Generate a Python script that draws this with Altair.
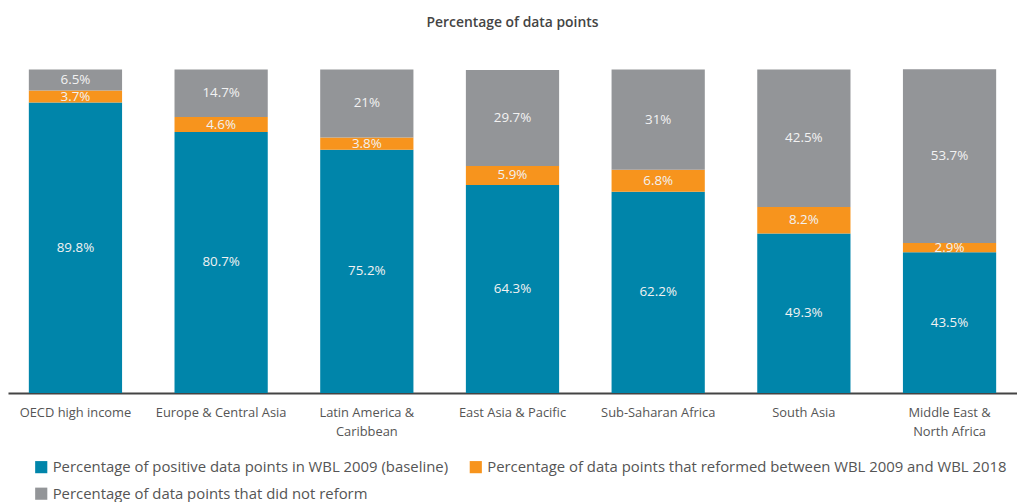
import altair as alt
import pandas as pd

regions = ["OECD high income", "Europe & Central Asia", "Latin America & Caribbean",
           "East Asia & Pacific", "Sub-Saharan Africa", "South Asia", "Middle East & North Africa"]
baseline = [89.8, 80.7, 75.2, 64.3, 62.2, 49.3, 43.5]
reformed = [3.7, 4.6, 3.8, 5.9, 6.8, 8.2, 2.9]
not_reformed = [6.5, 14.7, 21, 29.7, 31, 42.5, 53.7]

series = ["Percentage of positive data points in WBL 2009 (baseline)",
          "Percentage of data points that reformed between WBL 2009 and WBL 2018",
          "Percentage of data points that did not reform"]
colors = ["#0085AA", "#F7941D", "#939598"]
# legend fills column by column: order entries so rows read baseline | reformed, then not reform
legend_order = [series[0], series[2], series[1]]
legend_colors = [colors[0], colors[2], colors[1]]

rows = []
for i, r in enumerate(regions):
    for k, vals in enumerate([baseline, reformed, not_reformed]):
        v = vals[i]
        rows.append({"region": r, "series": series[k], "order": k, "value": v,
                     "label": f"{v:g}%"})
df = pd.DataFrame(rows)

base = alt.Chart(df).transform_stack(
    stack="value", groupby=["region"], as_=["v0", "v1"],
    sort=[alt.SortField("order", order="ascending")]
).transform_calculate(mid="(datum.v0 + datum.v1) / 2")

label_expr = ("datum.value == 'Latin America & Caribbean' ? ['Latin America &', 'Caribbean'] : "
              "datum.value == 'Middle East & North Africa' ? ['Middle East &', 'North Africa'] : datum.value")

x = alt.X("region:N", sort=regions, title=None,
          scale=alt.Scale(paddingInner=0.36, paddingOuter=0.143),
          axis=alt.Axis(labelAngle=0, ticks=False, domainColor="#444444", domainWidth=2,
                        labelColor="#555555", labelFontSize=13, labelFont="Open Sans",
                        labelPadding=14, labelLineHeight=19, labelExpr=label_expr,
                        labelBaseline="top"))

bars = base.mark_bar().encode(
    x=x,
    y=alt.Y("v0:Q", scale=alt.Scale(domain=[0, 100]), axis=None, title=None),
    y2="v1:Q",
    color=alt.Color("series:N",
                    scale=alt.Scale(domain=legend_order, range=legend_colors),
                    legend=alt.Legend(orient="none", legendX=26, legendY=393, columns=2,
                                      title=None, symbolType="square", symbolSize=150,
                                      symbolStrokeWidth=0, symbolOpacity=1,
                                      labelFontSize=15, labelFont="Open Sans",
                                      labelColor="#555555", columnPadding=20,
                                      rowPadding=11, labelLimit=600)),
)

texts = base.mark_text(color="#F2F2F2", fontSize=13.5, font="Open Sans").encode(
    x=alt.X("region:N", sort=regions),
    y=alt.Y("mid:Q"),
    text="label:N",
)

chart = alt.layer(bars, texts).properties(
    width=1017, height=326,
    title=alt.TitleParams("Percentage of data points", fontSize=14, font="Open Sans",
                          fontWeight=600, color="#444444", anchor="middle", offset=40),
    autosize=alt.AutoSizeParams(type="none"),
    padding={"left": 0, "top": 60, "right": 0, "bottom": 130},
).configure_view(stroke=None)

chart.save("out.html", embed_options={"renderer": "svg", "actions": False})
